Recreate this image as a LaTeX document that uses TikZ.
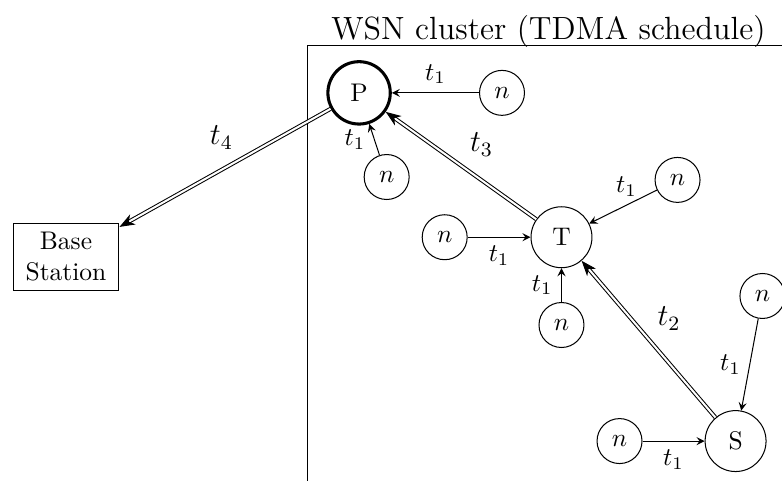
\documentclass[tikz,border=0pt]{standalone}
\usetikzlibrary{arrows.meta}
\tikzset{
    member/.style={shape=circle,draw=black,minimum size=0.62cm,inner sep=0pt},
    head/.style={shape=circle,draw=black,minimum size=0.84cm,inner sep=0pt},
    link/.style={double,double distance=0.8pt,-{Stealth[length=6pt,width=4.5pt,inset=1.8pt]}}
}
\begin{document}
\begin{tikzpicture}[>=stealth]
    \useasboundingbox (0,0) rectangle (10.78,-6.63);
    % cluster frame, cut off at the right and bottom
    \draw (4.24,-6.8) -- (4.24,-0.63) -- (10.9,-0.63);
    \node (title) at (7.56,-0.44) {\fontsize{12.6}{15}\selectfont WSN cluster (TDMA schedule)};

    \node[head,very thick,minimum size=0.86cm] (P) at (4.95,-1.28) {P};
    \node[head] (T) at (7.74,-3.27) {T};
    \node[head] (S) at (10.14,-6.08) {S};
    \node[shape=rectangle,draw=black,align=center,minimum width=1.46cm,minimum height=0.92cm] (B) at (0.91,-3.54) {Base\\Station};

    \node[member] (nP1) at (6.92,-1.28) {$n$};
    \node[member] (nP2) at (5.33,-2.44) {$n$};
    \node[member] (nT1) at (6.13,-3.27) {$n$};
    \node[member] (nT2) at (9.34,-2.48) {$n$};
    \node[member] (nT3) at (7.74,-4.48) {$n$};
    \node[member] (nS1) at (8.54,-6.08) {$n$};
    \node[member] (nS2) at (10.51,-4.08) {$n$};

    \path [->] (nP1) edge node[above] {$t_1$} (P);
    \path [->] (nP2) edge node[left] {$t_1$} (P);
    \path [->] (nT1) edge node[below] {$t_1$} (T);
    \path [->] (nT2) edge node[above,pos=0.45] {$t_1$} (T);
    \path [->] (nT3) edge node[left] {$t_1$} (T);
    \path [->] (nS1) edge node[below] {$t_1$} (S);
    \path [->] (nS2) edge node[left] {$t_1$} (S);

    \path (S) edge[link] node[above right] {\large $t_2$} (T);
    \path (T) edge[link] node[above right] {\large $t_3$} (P);
    \path (P) edge[link] node[above left,pos=0.42] {\large $t_4$} (B);
\end{tikzpicture}
\end{document}
